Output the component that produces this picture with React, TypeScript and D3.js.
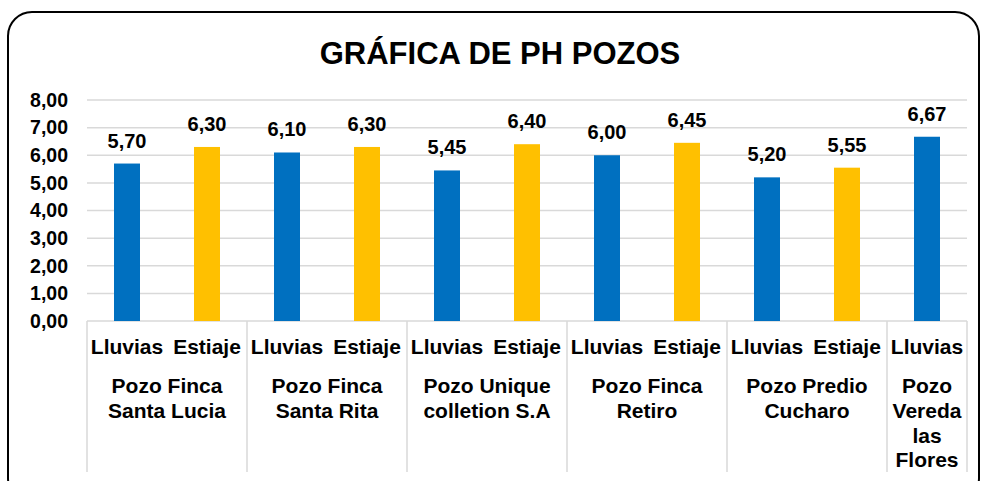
import React from "react";
import * as d3 from "d3";

const groups = [
  ["Pozo Finca", "Santa Lucia"],
  ["Pozo Finca", "Santa Rita"],
  ["Pozo Unique", "colletion S.A"],
  ["Pozo Finca", "Retiro"],
  ["Pozo Predio", "Cucharo"],
  ["Pozo", "Vereda", "las", "Flores"],
];
const seasons = ["Lluvias", "Estiaje"];
const lluvias = [5.7, 6.1, 5.45, 6.0, 5.2, 6.67];
const estiaje: (number | null)[] = [6.3, 6.3, 6.4, 6.45, 5.55, null];
const yTicks = [0, 1, 2, 3, 4, 5, 6, 7, 8];

const W = 982;
const H = 481;
const FONT = "'Liberation Sans', Arial, sans-serif";
const BLUE = "#0070C0";
const GOLD = "#FFC000";
const GRID = "#d9d9d9";

const fmt = (v: number) => v.toFixed(2).replace(".", ",");

export default function App() {
  // flatten into slots (one per bar)
  const slots: { g: number; s: number; v: number; key: string }[] = [];
  groups.forEach((_, g) => {
    [lluvias[g], estiaje[g]].forEach((v, s) => {
      if (v != null) slots.push({ g, s, v, key: `${g}-${s}` });
    });
  });

  const margin = { left: 87, right: 15, top: 100, bottom: 160 };
  const x = d3
    .scaleBand<string>()
    .domain(slots.map((d) => d.key))
    .range([margin.left, W - margin.right])
    .paddingInner(0)
    .paddingOuter(0);
  const y = d3.scaleLinear().domain([0, 8]).range([H - margin.bottom, margin.top]);
  const barW = x.bandwidth() * 0.325;
  const y0 = y(0);
  const axisBottom = 472;

  const groupSpans = groups.map((lines, g) => {
    const mine = slots.filter((d) => d.g === g);
    const x0 = x(mine[0].key)!;
    const x1 = x(mine[mine.length - 1].key)! + x.bandwidth();
    return { lines, x0, x1 };
  });

  return (
    <svg
      width={W}
      height={H}
      style={{ position: "absolute", left: 0, top: 0, background: "#fff" }}
      fontFamily={FONT}
      fontWeight="bold"
    >
      <rect x={8} y={12} width={971} height={490} rx={24} fill="#fff" stroke="#000" strokeWidth={2} />
      <text x={500} y={64} textAnchor="middle" fontSize={31}>
        GRÁFICA DE PH POZOS
      </text>

      {yTicks.map((t) => (
        <g key={t}>
          <line x1={margin.left} x2={W - margin.right} y1={y(t)} y2={y(t)} stroke={GRID} strokeWidth={1.5} />
          <text x={68} y={y(t)} dy="0.35em" textAnchor="end" fontSize={19.5}>
            {fmt(t)}
          </text>
        </g>
      ))}

      {slots.map((d) => {
        const cx = x(d.key)! + x.bandwidth() / 2;
        return (
          <g key={d.key}>
            <rect x={cx - barW / 2} y={y(d.v)} width={barW} height={y0 - y(d.v)} fill={d.s === 0 ? BLUE : GOLD} />
            <text x={cx} y={y(d.v) - 16} textAnchor="middle" fontSize={20}>
              {fmt(d.v)}
            </text>
            <text x={cx} y={347} dy="0.35em" textAnchor="middle" fontSize={21}>
              {seasons[d.s]}
            </text>
          </g>
        );
      })}

      {groupSpans.map((gs, i) => (
        <g key={i}>
          <line x1={gs.x0} x2={gs.x0} y1={y0} y2={axisBottom} stroke={GRID} strokeWidth={1.5} />
          {i === groupSpans.length - 1 && (
            <line x1={gs.x1} x2={gs.x1} y1={y0} y2={axisBottom} stroke={GRID} strokeWidth={1.5} />
          )}
          {gs.lines.map((l, j) => (
            <text key={j} x={(gs.x0 + gs.x1) / 2} y={386 + j * 24.7} dy="0.35em" textAnchor="middle" fontSize={21}>
              {l}
            </text>
          ))}
        </g>
      ))}
    </svg>
  );
}
